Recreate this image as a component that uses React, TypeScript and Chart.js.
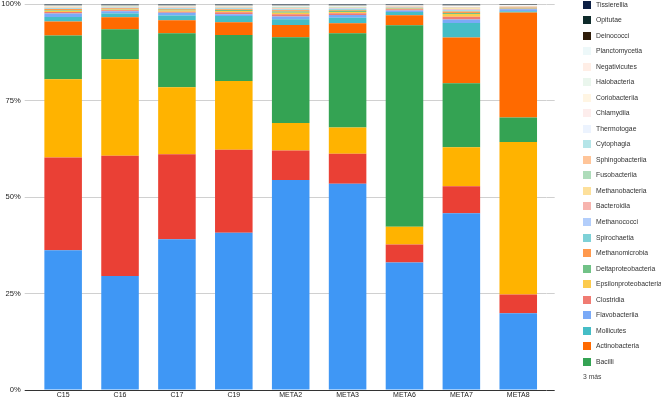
import React, { useEffect, useRef } from 'react';
import { Chart, registerables } from 'chart.js';

Chart.register(...registerables);

const categories = ['C15', 'C16', 'C17', 'C19', 'META2', 'META3', 'META6', 'META7', 'META8'];
const yTickValues = [0, 25, 50, 75, 100];

// Series in stacking order (bottom to top)
const gammaproteobacteria = [36.3, 29.7, 39.1, 40.7, 54.4, 53.4, 33.0, 46.1, 19.9];
const alphaproteobacteria = [24.1, 31.3, 22.1, 21.5, 7.6, 7.8, 4.7, 7.0, 4.9];
const betaproteobacteria = [20.3, 25.1, 17.4, 17.8, 7.1, 6.8, 4.6, 10.2, 39.6];
const bacilli = [11.4, 7.8, 14.0, 11.9, 22.2, 24.4, 52.2, 16.7, 6.3];
const actinobacteria = [3.6, 3.1, 3.4, 3.3, 3.2, 2.6, 2.6, 11.9, 27.3];
const mollicutes = [1.2, 1.0, 1.2, 1.6, 1.5, 1.4, 0.8, 3.8, 0.3];
const flavobacteriia = [0.9, 0.6, 0.7, 0.5, 0.7, 0.7, 0.4, 0.9, 0.5];
const clostridia = [0.4, 0.25, 0.3, 0.5, 0.6, 0.5, 0.3, 0.7, 0.15];
const epsilonproteobacteria = [0.3, 0.2, 0.3, 0.3, 0.4, 0.3, 0.15, 0.7, 0.1];
const deltaproteobacteria = [0.2, 0.15, 0.2, 0.3, 0.3, 0.3, 0.15, 0.3, 0.1];
const methanomicrobia = [0.25, 0.15, 0.2, 0.2, 0.3, 0.25, 0.1, 0.4, 0.1];
const spirochaetia = [0.15, 0.12, 0.15, 0.15, 0.2, 0.2, 0.1, 0.25, 0.08];
const methanococci = [0.12, 0.1, 0.1, 0.12, 0.15, 0.15, 0.08, 0.2, 0.08];
const bacteroidia = [0.1, 0.08, 0.1, 0.1, 0.15, 0.12, 0.07, 0.2, 0.08];
const methanobacteria = [0.08, 0.06, 0.08, 0.08, 0.12, 0.1, 0.06, 0.15, 0.06];
const fusobacteriia = [0.08, 0.06, 0.07, 0.08, 0.1, 0.1, 0.05, 0.12, 0.05];
const sphingobacteriia = [0.07, 0.05, 0.07, 0.07, 0.1, 0.08, 0.05, 0.12, 0.05];
const cytophagia = [0.06, 0.05, 0.06, 0.06, 0.08, 0.07, 0.04, 0.1, 0.05];
const thermotogae = [0.05, 0.04, 0.05, 0.05, 0.07, 0.06, 0.04, 0.08, 0.04];
const chlamydiia = [0.05, 0.04, 0.05, 0.05, 0.06, 0.06, 0.04, 0.08, 0.04];
const coriobacteriia = [0.04, 0.04, 0.04, 0.05, 0.06, 0.05, 0.03, 0.07, 0.04];
const halobacteria = [0.04, 0.03, 0.04, 0.04, 0.05, 0.05, 0.03, 0.06, 0.03];
const negativicutes = [0.04, 0.03, 0.04, 0.04, 0.05, 0.05, 0.03, 0.06, 0.03];
const planctomycetia = [0.04, 0.03, 0.04, 0.04, 0.05, 0.04, 0.03, 0.05, 0.03];
const deinococci = [0.1, 0.1, 0.1, 0.1, 0.1, 0.1, 0.08, 0.1, 0.06];
const opitutae = [0.1, 0.1, 0.1, 0.1, 0.1, 0.1, 0.08, 0.1, 0.06];
const tissierellia = [0.12, 0.12, 0.12, 0.12, 0.12, 0.12, 0.1, 0.12, 0.08];

const seriesNames = [
  'Gammaproteobacteria', 'Alphaproteobacteria', 'Betaproteobacteria',
  'Bacilli', 'Actinobacteria', 'Mollicutes', 'Flavobacteriia', 'Clostridia',
  'Epsilonproteobacteria', 'Deltaproteobacteria', 'Methanomicrobia', 'Spirochaetia',
  'Methanococci', 'Bacteroidia', 'Methanobacteria', 'Fusobacteriia', 'Sphingobacteriia',
  'Cytophagia', 'Thermotogae', 'Chlamydiia', 'Coriobacteriia', 'Halobacteria',
  'Negativicutes', 'Planctomycetia', 'Deinococci', 'Opitutae', 'Tissierellia',
];
const seriesValues = [
  gammaproteobacteria, alphaproteobacteria, betaproteobacteria,
  bacilli, actinobacteria, mollicutes, flavobacteriia, clostridia,
  epsilonproteobacteria, deltaproteobacteria, methanomicrobia, spirochaetia,
  methanococci, bacteroidia, methanobacteria, fusobacteriia, sphingobacteriia,
  cytophagia, thermotogae, chlamydiia, coriobacteriia, halobacteria,
  negativicutes, planctomycetia, deinococci, opitutae, tissierellia,
];
const seriesColors = [
  '#3f97f5', '#ea4035', '#ffb300',
  '#34a353', '#ff6a00', '#45bdc6', '#7aaaf7', '#f07b72',
  '#fccb4d', '#71c287', '#ff994d', '#7ed1d7',
  '#b3cefb', '#f7b4ae', '#fde09b', '#aedcba', '#ffc599',
  '#b5e5e8', '#ecf3fe', '#fdedec', '#fff5e3', '#eaf6ed',
  '#ffeee6', '#edf8f9', '#2e1c0a', '#0e2a2a', '#0c1f44',
];
const hiddenLegendCount = 3;
const moreLabel = '3 más';

const FONT = "'Liberation Sans', Arial, sans-serif";

export default function App() {
  const canvasRef = useRef<HTMLCanvasElement>(null);

  useEffect(() => {
    document.body.style.margin = '0';
    const totals = categories.map((_, i) => seriesValues.reduce((s, arr) => s + arr[i], 0));
    const gridColor = (ctx: any) => (ctx.tick && ctx.tick.value === 0 ? '#333333' : '#d0d0d0');
    const chart = new Chart(canvasRef.current!, {
      type: 'bar',
      data: {
        labels: categories,
        datasets: seriesNames.map((name, k) => ({
          label: name,
          data: seriesValues[k].map((v, i) => (v / totals[i]) * 100),
          backgroundColor: seriesColors[k],
          borderWidth: 0,
          barPercentage: 0.66,
          categoryPercentage: 1,
        })),
      },
      options: {
        animation: false,
        responsive: false,
        maintainAspectRatio: false,
        layout: { padding: { left: 1.2, right: 106.3, top: 0, bottom: 0 } },
        plugins: { legend: { display: false }, tooltip: { enabled: false } },
        scales: {
          x: {
            stacked: true,
            grid: { display: false, drawTicks: false, tickLength: 0 },
            border: { display: false },
            afterFit: (s: any) => {
              s.height = 8;
              s.paddingLeft = 0;
              s.paddingRight = 0;
            },
            ticks: {
              padding: 1.5,
              color: '#222',
              maxRotation: 0,
              autoSkip: false,
              font: { family: FONT, size: 7, lineHeight: 1 },
            },
          },
          y: {
            stacked: true,
            min: 0,
            max: 100,
            afterBuildTicks: (axis: any) => {
              axis.ticks = yTickValues.map((v) => ({ value: v }));
            },
            afterFit: (s: any) => {
              s.width = 33.5;
              s.paddingTop = 4.3;
              s.paddingBottom = 0;
            },
            ticks: {
              padding: 4,
              color: '#222',
              font: { family: FONT, size: 7.6 },
              callback: (v: any) => v + '%',
            },
            grid: { color: gridColor, tickLength: 10, lineWidth: 1 },
            border: { display: false },
          },
          y2: {
            position: 'right',
            min: 0,
            max: 100,
            afterBuildTicks: (axis: any) => {
              axis.ticks = yTickValues.map((v) => ({ value: v }));
            },
            afterFit: (s: any) => {
              s.width = 8;
              s.paddingTop = 0;
              s.paddingBottom = 0;
            },
            ticks: { display: false },
            grid: { color: gridColor, drawOnChartArea: false, tickLength: 8, lineWidth: 1 },
            border: { display: false },
          },
        },
      },
    });
    return () => chart.destroy();
  }, []);

  const legendIdx = seriesNames.map((_, k) => k).slice(hiddenLegendCount).reverse();
  const pitch = 15.53;
  const firstY = 4.6;

  return (
    <div style={{ position: 'relative', width: 661, height: 398, overflow: 'hidden', fontFamily: FONT }}>
      <canvas ref={canvasRef} width={661} height={398} style={{ display: 'block' }} />
      {legendIdx.map((k, row) => {
        const cy = firstY + row * pitch;
        return (
          <div key={k}>
            <div
              style={{
                position: 'absolute', left: 583, top: cy - 4, width: 8, height: 8,
                background: seriesColors[k],
              }}
            />
            <div
              style={{
                position: 'absolute', left: 596, top: cy - 5, height: 10, lineHeight: '10px',
                fontSize: 6.8, color: '#333', whiteSpace: 'nowrap',
              }}
            >
              {seriesNames[k]}
            </div>
          </div>
        );
      })}
      <div
        style={{
          position: 'absolute', left: 583, top: firstY + legendIdx.length * pitch - 5,
          height: 10, lineHeight: '10px', fontSize: 6.8, color: '#444', whiteSpace: 'nowrap',
        }}
      >
        {moreLabel}
      </div>
    </div>
  );
}
